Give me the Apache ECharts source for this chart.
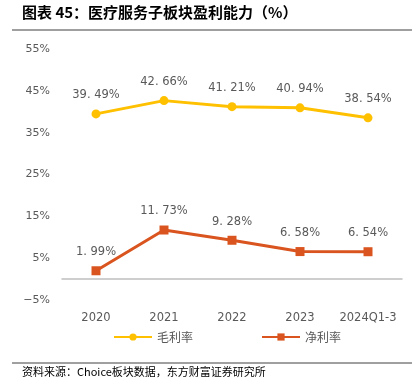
<!DOCTYPE html>
<html><head><meta charset="utf-8">
<script src="https://cdn.jsdelivr.net/npm/echarts@6/dist/echarts.min.js"></script>
<style>html,body{margin:0;padding:0;background:#fff}#c{width:415px;height:385px}</style>
</head><body><div id="c"></div>
<script>
const categories = ['2020', '2021', '2022', '2023', '2024Q1-3'];
const grossMargin = [39.49, 42.66, 41.21, 40.94, 38.54];
const netMargin = [1.99, 11.73, 9.28, 6.58, 6.54];
const seriesNames = ['毛利率', '净利率'];
const titleText = '图表 45：医疗服务子板块盈利能力（%）';
const sourceText = '资料来源：Choice板块数据，东方财富证券研究所';

const chart = echarts.init(document.getElementById('c'));
const labelStyle = {show: true, position: 'top', distance: 8, color: '#595959', fontSize: 11.5,
  fontFamily: 'DejaVu Sans', formatter: p => p.value.toFixed(2).replace('.', '. ') + '%'};
chart.setOption({
  animation: false,
  grid: {left: 62, right: 13, top: 49, bottom: 85},
  xAxis: {type: 'category', data: categories,
    axisLine: {lineStyle: {color: '#BFBFBF', width: 1.5}}, axisTick: {show: false},
    axisLabel: {interval: 0, color: '#595959', fontSize: 11.5, margin: 12, fontFamily: 'DejaVu Sans'}},
  yAxis: {type: 'value', min: -5, max: 55, interval: 10,
    axisLine: {show: false}, axisTick: {show: false}, splitLine: {show: false},
    axisLabel: {color: '#595959', fontSize: 11, margin: 12, fontFamily: 'DejaVu Sans',
      formatter: v => (v < 0 ? '−' + Math.abs(v) : v) + '%'}},
  legend: {bottom: 37, left: 108, itemGap: 68, itemWidth: 38, itemHeight: 9,
    textStyle: {color: '#595959', fontSize: 12, fontFamily: 'Noto Sans CJK SC'},
    data: seriesNames},
  series: [
    {name: seriesNames[0], type: 'line', data: grossMargin, symbol: 'circle', symbolSize: 9,
      lineStyle: {color: '#FFC000', width: 3}, itemStyle: {color: '#FFC000'}, label: labelStyle},
    {name: seriesNames[1], type: 'line', data: netMargin, symbol: 'rect', symbolSize: 9,
      lineStyle: {color: '#D9541E', width: 3}, itemStyle: {color: '#D9541E'}, label: labelStyle}
  ],
  graphic: [
    {type: 'text', left: 22, top: 5, style: {text: titleText, fill: '#000', font: 'bold 15px "Noto Sans CJK SC"'}},
    {type: 'line', shape: {x1: 12, y1: 30, x2: 412, y2: 30}, style: {stroke: '#7F7F7F', lineWidth: 1.5}},
    {type: 'line', shape: {x1: 12, y1: 363, x2: 412, y2: 363}, style: {stroke: '#404040', lineWidth: 1}},
    {type: 'text', left: 22, top: 366, style: {text: sourceText, fill: '#000', font: '11px "Noto Sans CJK SC"'}}
  ]
});
</script></body></html>
